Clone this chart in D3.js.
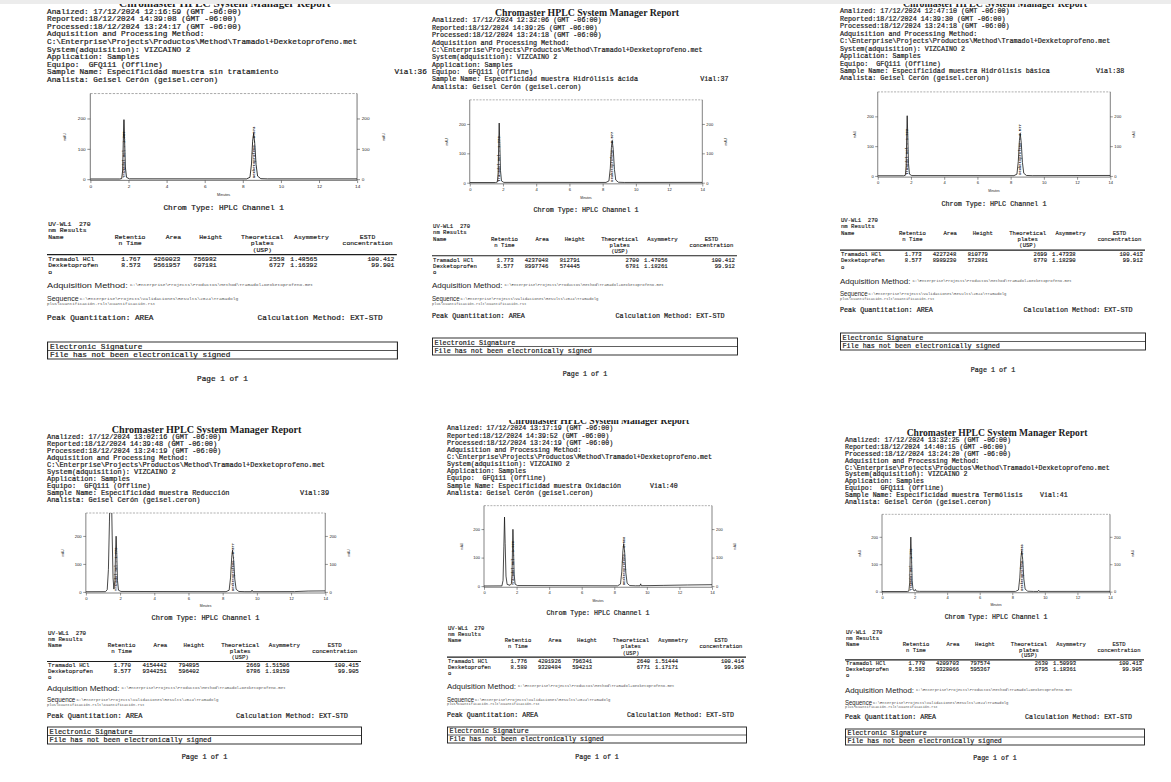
<!DOCTYPE html>
<html>
<head>
<meta charset="utf-8">
<script src="https://cdn.jsdelivr.net/npm/d3@7"></script>
<style>
  body { margin: 0; background: #fff; }
  svg { display: block; }
</style>
</head>
<body>
<script>
// one report per vial (Chromaster HPLC, forced degradation specificity)
var vials       = [36, 37, 38, 39, 40, 41];
var sampleNames = ['sin tratamiento', 'Hidrólisis ácida', 'Hidrólisis básica', 'Reducción', 'Oxidación', 'Termólisis'];
var analized    = ['12:16:59', '12:32:06', '12:47:10', '13:02:16', '13:17:19', '13:32:25'];
var reported    = ['14:39:08', '14:39:25', '14:39:30', '14:39:48', '14:39:52', '14:40:15'];
var processed   = ['13:24:17', '13:24:18', '13:24:18', '13:24:19', '13:24:19', '13:24:20'];

var compounds = ['Tramadol HCl', 'Dexketoprofeno'];
var retTimes  = [[1.767, 8.573], [1.773, 8.577], [1.773, 8.577], [1.770, 8.577], [1.776, 8.580], [1.770, 8.583]];
var areas     = [[4260023, 9561957], [4237048, 8997746], [4227248, 8989230], [4154442, 9344251], [4201926, 9320484], [4209703, 9328066]];
var heights   = [[756982, 607181], [812791, 574445], [810779, 572881], [794895, 596402], [796341, 594213], [797574, 595367]];
var plates    = [[2558, 6727], [2700, 6781], [2699, 6770], [2669, 6786], [2640, 6771], [2630, 6795]];
var asymmetry = [[1.48565, 1.16392], [1.47056, 1.18261], [1.47338, 1.18290], [1.51506, 1.18159], [1.51444, 1.17171], [1.50993, 1.18361]];
var estd      = [[100.412, 99.901], [100.412, 99.912], [100.413, 99.912], [100.415, 99.905], [100.414, 99.905], [100.413, 99.905]];

var xTicks = [0, 2, 4, 6, 8, 10, 12, 14];
var yTicks = [0, 100, 200];

// chromatograms, [minutes, mAU]
var trace36 = [[0, 0.5], [1.55, 0.5], [1.65, 2], [1.70, 30], [1.73, 120], [1.767, 196], [1.80, 130], [1.84, 40], [1.90, 6], [2.05, 1],
  [8.2, 0.8], [8.38, 6], [8.46, 50], [8.52, 125], [8.573, 151], [8.63, 118], [8.70, 48], [8.78, 10], [8.95, 1.5], [9.3, 0.8], [14, 0.8]];
var trace37 = [[0, 0.5], [1.55, 0.5], [1.66, 2], [1.71, 32], [1.74, 125], [1.773, 203], [1.81, 132], [1.85, 42], [1.91, 6], [2.05, 1],
  [8.2, 0.8], [8.38, 6], [8.46, 48], [8.53, 120], [8.577, 144], [8.64, 112], [8.71, 45], [8.79, 9], [8.95, 1.5], [9.3, 0.8], [14, 1]];
var trace38 = [[0, 0.5], [1.55, 0.5], [1.66, 2], [1.71, 32], [1.74, 124], [1.773, 202], [1.81, 131], [1.85, 42], [1.91, 6], [2.05, 1],
  [8.2, 0.8], [8.38, 6], [8.46, 48], [8.53, 119], [8.577, 143], [8.64, 111], [8.71, 45], [8.79, 9], [8.95, 1.5], [9.3, 0.8], [14, 1.5]];
var trace39 = [[0, 0.5], [1.15, 0.8], [1.25, 8], [1.32, 80], [1.38, 250], [1.43, 420], [1.49, 380], [1.54, 200], [1.59, 50], [1.64, 10],
  [1.70, 40], [1.73, 125], [1.770, 199], [1.81, 130], [1.85, 40], [1.91, 6], [2.05, 1.5],
  [8.2, 0.8], [8.38, 6], [8.46, 50], [8.53, 124], [8.577, 149], [8.64, 116], [8.71, 46], [8.79, 9], [8.95, 1.5], [9.3, 0.8],
  [9.68, 0.8], [9.72, 6], [9.76, 0.8], [12.2, 1], [13.0, 3], [14, 3.5]];
var trace40 = [[0, 0.5], [1.10, 0.8], [1.17, 20], [1.22, 140], [1.26, 242], [1.30, 150], [1.35, 35], [1.42, 6], [1.60, 3],
  [1.68, 8], [1.72, 40], [1.75, 130], [1.776, 199], [1.81, 132], [1.85, 42], [1.91, 7], [2.05, 2],
  [8.2, 1], [8.38, 7], [8.46, 50], [8.53, 124], [8.580, 149], [8.64, 116], [8.71, 46], [8.79, 10], [8.95, 2], [9.3, 1.2],
  [9.58, 1.2], [9.62, 8], [9.66, 1.5], [11, 2.5], [12.5, 4], [14, 5]];
var trace41 = [[0, 0.5], [1.55, 0.5], [1.65, 2], [1.70, 32], [1.73, 125], [1.770, 199], [1.81, 131], [1.85, 40], [1.91, 6], [2.0, 3],
  [2.05, 8], [2.1, 2], [2.3, 1],
  [8.2, 0.8], [8.38, 6], [8.46, 50], [8.53, 124], [8.583, 149], [8.64, 116], [8.71, 46], [8.79, 9], [8.95, 1.5], [9.3, 0.8],
  [9.58, 0.8], [9.62, 5], [9.66, 0.8], [14, 1]];
var traces = [trace36, trace37, trace38, trace39, trace40, trace41];

// where each scanned page sits in the collage; foot = centre lines of
// Adquisition, Sequence, Peak Quantitation, signature box top/bottom, page no.
var frames = [
  {x: 47,  y: 3.5,  sx: 1.17, sy: 1.085, vialX: 297, row: 0, foot: [285, 300, 318, 342, 359, 379]},
  {x: 432, y: 12.7, sx: 1.02, sy: 1.05,  vialX: 263, row: 0, foot: [285, 300, 316, 338, 355, 374]},
  {x: 840, y: 3.5,  sx: 1.02, sy: 1.065, vialX: 251, row: 0, foot: [281, 295, 310, 333, 350, 370]},
  {x: 47,  y: 430,  sx: 1.05, sy: 1.00,  vialX: 241, row: 1, foot: [688, 701, 716, 727, 744, 757]},
  {x: 447, y: 421,  sx: 1.00, sy: 1.02,  vialX: 203, row: 1, foot: [686, 700, 715, 727, 743, 757]},
  {x: 845, y: 433,  sx: 1.00, sy: 0.98,  vialX: 195, row: 1, foot: [690, 703, 717, 729, 745, 758]}
];

var W = 1171, H = 782;
var mono = "'Liberation Mono', 'Courier New', monospace",
    serif = "'Liberation Serif', 'Times New Roman', serif",
    sans = "'Liberation Sans', Arial, sans-serif",
    ink = '#1c1c1c';

var svg = d3.select('body').append('svg')
  .attr('width', W)
  .attr('height', H);

svg.append('rect').attr('width', W).attr('height', H).attr('fill', '#fff');

var defs = svg.append('defs');
defs.append('clipPath').attr('id', 'row0')
  .append('rect').attr('x', 0).attr('y', 0).attr('width', W).attr('height', 405);
defs.append('clipPath').attr('id', 'row1')
  .append('rect').attr('x', 0).attr('y', 420).attr('width', W).attr('height', H - 420);
defs.append('clipPath').attr('id', 'plotclip')
  .append('rect').attr('x', 37).attr('y', 83).attr('width', 228).attr('height', 80);

var fmt3 = d3.format('.3f'), fmt5 = d3.format('.5f'), fmtInt = d3.format('d');

frames.forEach(function (f, i) { drawPage(f, i); });

// grey strip along the top edge of the collage
svg.append('rect')
  .attr('x', 0).attr('y', 0)
  .attr('width', W).attr('height', 4)
  .attr('fill', '#ececec');

function txt(g, x, y, s, size, opts) {
  opts = opts || {};
  var t = g.append('text')
    .attr('x', x)
    .attr('y', y)
    .attr('font-family', opts.family || mono)
    .attr('font-size', size)
    .attr('fill', opts.fill || ink)
    .attr('text-anchor', opts.anchor || 'start')
    .style('white-space', 'pre')
    .text(s);
  if (opts.weight) t.attr('font-weight', opts.weight);
  if (opts.bold) t.attr('stroke', opts.fill || ink).attr('stroke-width', opts.bold);
  if (opts.len) t.attr('textLength', opts.len).attr('lengthAdjust', 'spacingAndGlyphs');
  return t;
}

function drawPage(f, i) {
  var page = svg.append('g')
    .attr('clip-path', 'url(#row' + f.row + ')');
  var top = page.append('g')
    .attr('transform', 'translate(' + f.x + ',' + f.y + ') scale(' + f.sx + ',' + f.sy + ')');
  var foot = page.append('g')
    .attr('transform', 'translate(' + f.x + ',0) scale(' + f.sx + ',1)');

  // HEADER
  txt(top, 152, 3.3, 'Chromaster HPLC System Manager Report', 9.6, {family: serif, weight: 'bold', anchor: 'middle'});

  var lines = [
    'Analized: 17/12/2024 ' + analized[i] + ' (GMT -06:00)',
    'Reported:18/12/2024 ' + reported[i] + ' (GMT -06:00)',
    'Processed:18/12/2024 ' + processed[i] + ' (GMT -06:00)',
    'Adquisition and Processing Method:',
    'C:\\Enterprise\\Projects\\Productos\\Method\\Tramadol+Dexketoprofeno.met',
    'System(adquisition): VIZCAINO 2',
    'Application: Samples',
    'Equipo:  GFQ111 (Offline)',
    'Sample Name: Especificidad muestra ' + sampleNames[i],
    'Analista: Geisel Cerón (geisel.ceron)'
  ];
  lines.forEach(function (s, k) {
    txt(top, 0, 9.3 + 7 * k, s, 6.6, {bold: 0.2});
  });
  txt(top, f.vialX, 9.3 + 7 * 8, 'Vial:' + vials[i], 6.6, {bold: 0.2});

  // CHROMATOGRAM
  var x = d3.scaleLinear().domain([0, 14]).range([37, 265]),
      y = d3.scaleLinear().domain([-4, 282]).range([163, 83]);

  var chart = top.append('g');

  chart.append('line')
    .attr('x1', 37).attr('x2', 265).attr('y1', 83).attr('y2', 83)
    .attr('stroke', '#666').attr('stroke-width', 0.5).attr('stroke-dasharray', '2,1.2');

  var left = chart.append('g')
    .attr('transform', 'translate(37,0)')
    .call(d3.axisLeft(y).tickValues(yTicks).tickSize(2.5).tickPadding(1.5));
  var right = chart.append('g')
    .attr('transform', 'translate(265,0)')
    .call(d3.axisRight(y).tickValues(yTicks).tickSize(2.5).tickPadding(1.5));
  var bottom = chart.append('g')
    .attr('transform', 'translate(0,163)')
    .call(d3.axisBottom(x).tickValues(xTicks).tickSize(2.5).tickPadding(1.5));

  [left, right, bottom].forEach(function (a) {
    a.select('.domain').attr('stroke', '#333').attr('stroke-width', 0.6);
    a.selectAll('.tick line').attr('stroke', '#333').attr('stroke-width', 0.5);
    a.selectAll('.tick text').attr('font-size', 4).attr('font-family', sans).attr('fill', ink);
  });
  // plain frame edges instead of d3's end ticks
  left.select('.domain').attr('d', 'M0,83V163');
  right.select('.domain').attr('d', 'M0,83V163');
  bottom.select('.domain').attr('d', 'M37,0H265');

  txt(chart, 151, 177, 'Minutes', 3.2, {family: sans, anchor: 'middle'});
  txt(chart, 0, 0, 'mAU', 3.2, {family: sans, anchor: 'middle'})
    .attr('transform', 'translate(16,123) rotate(-90)');
  txt(chart, 0, 0, 'mAU', 3.2, {family: sans, anchor: 'middle'})
    .attr('transform', 'translate(289,123) rotate(-90)');

  var line = d3.line()
    .x(function (d) { return x(d[0]); })
    .y(function (d) { return y(d[1]); });

  var plot = chart.append('g').attr('clip-path', 'url(#plotclip)');
  plot.append('path')
    .attr('d', line(traces[i]))
    .attr('fill', 'none')
    .attr('stroke', '#111')
    .attr('stroke-width', 0.75);

  // peak name + time written up along each peak
  retTimes[i].forEach(function (rt, k) {
    txt(plot, 0, 0, compounds[k] + ' - ' + fmt3(rt), 3.6, {weight: 'bold'})
      .attr('transform', 'translate(' + (x(rt) + 1.2) + ',' + (y(0) - 1) + ') rotate(-90)');
  });

  txt(top, 151, 190, 'Chrom Type: HPLC Channel 1', 6.6, {anchor: 'middle', bold: 0.2});

  // RESULTS TABLE
  var ts = 5.5;
  txt(top, 1, 205, 'UV-WL1  270', ts, {bold: 0.15});
  txt(top, 1, 211, 'nm Results', ts, {bold: 0.15});
  txt(top, 1, 217, 'Name', ts, {bold: 0.15});

  var cols = [
    {head: ['Retentio', 'n Time'], cx: 71, rx: 80, vals: retTimes[i].map(fmt3)},
    {head: ['Area'], cx: 108, rx: 114, vals: areas[i].map(fmtInt)},
    {head: ['Height'], cx: 140, rx: 145, vals: heights[i].map(fmtInt)},
    {head: ['Theoretical', 'plates', '(USP)'], cx: 184, rx: 203, vals: plates[i].map(fmtInt)},
    {head: ['Asymmetry'], cx: 226, rx: 231, vals: asymmetry[i].map(fmt5)},
    {head: ['ESTD', 'concentration'], cx: 274, rx: 297, vals: estd[i].map(fmt3)}
  ];
  cols.forEach(function (c) {
    c.head.forEach(function (h, k) {
      txt(top, c.cx, 217 + 6 * k, h, ts, {anchor: 'middle', bold: 0.15});
    });
    c.vals.forEach(function (v, k) {
      txt(top, c.rx, 237 + 6 * k, v, ts, {anchor: 'end', bold: 0.15});
    });
  });

  top.append('line')
    .attr('x1', 0).attr('x2', 299).attr('y1', 231.5).attr('y2', 231.5)
    .attr('stroke', ink).attr('stroke-width', 1.1);

  // long names wrap after 13 characters, as in the printout
  var rowY = 237;
  compounds.forEach(function (c) {
    var parts = c.length > 13 ? [c.slice(0, 13), c.slice(13)] : [c];
    parts.forEach(function (p) {
      txt(top, 1, rowY, p, ts, {bold: 0.15});
      rowY += 6;
    });
  });

  // FOOTER (absolute rows)
  var fy = f.foot;
  txt(foot, 0, fy[0] + 2.6, 'Adquisition Method:', 7.8, {family: sans, len: 69});
  txt(foot, 71, fy[0] + 1.2, 'C:\\Enterprise\\Projects\\Productos\\Method\\Tramadol+Dexketoprofeno.met', 3.9, {fill: '#555'});
  txt(foot, 0, fy[1] + 1.5, 'Sequence', 7, {family: sans, len: 27});
  txt(foot, 28, fy[1] + 0.5, 'C:\\Enterprise\\Projects\\Validaciones\\Results\\2024\\Tramadolg', 3.9, {fill: '#555'});
  txt(foot, 0, fy[1] + 5, 'plus\\Cuantificación.rslt\\Cuantificación.rst', 3.6, {fill: '#555'});

  txt(foot, 0, fy[2] + 2.3, 'Peak Quantitation: AREA', 6.6, {bold: 0.2});
  txt(foot, 180, fy[2] + 2.3, 'Calculation Method: EXT-STD', 6.6, {bold: 0.2});

  var mid = (fy[3] + fy[4]) / 2;
  foot.append('rect')
    .attr('x', 0.5).attr('y', fy[3])
    .attr('width', 299).attr('height', fy[4] - fy[3])
    .attr('fill', 'none').attr('stroke', ink).attr('stroke-width', 0.9);
  foot.append('line')
    .attr('x1', 0.5).attr('x2', 299.5).attr('y1', mid).attr('y2', mid)
    .attr('stroke', ink).attr('stroke-width', 0.7);
  txt(foot, 2.5, (fy[3] + mid) / 2 + 2.3, 'Electronic Signature', 6.6, {bold: 0.2});
  txt(foot, 2.5, (mid + fy[4]) / 2 + 2.3, 'File has not been electronically signed', 6.6, {bold: 0.2});

  txt(foot, 150, fy[5] + 2.3, 'Page 1 of 1', 6.6, {anchor: 'middle', bold: 0.2});
}
</script>
</body>
</html>
